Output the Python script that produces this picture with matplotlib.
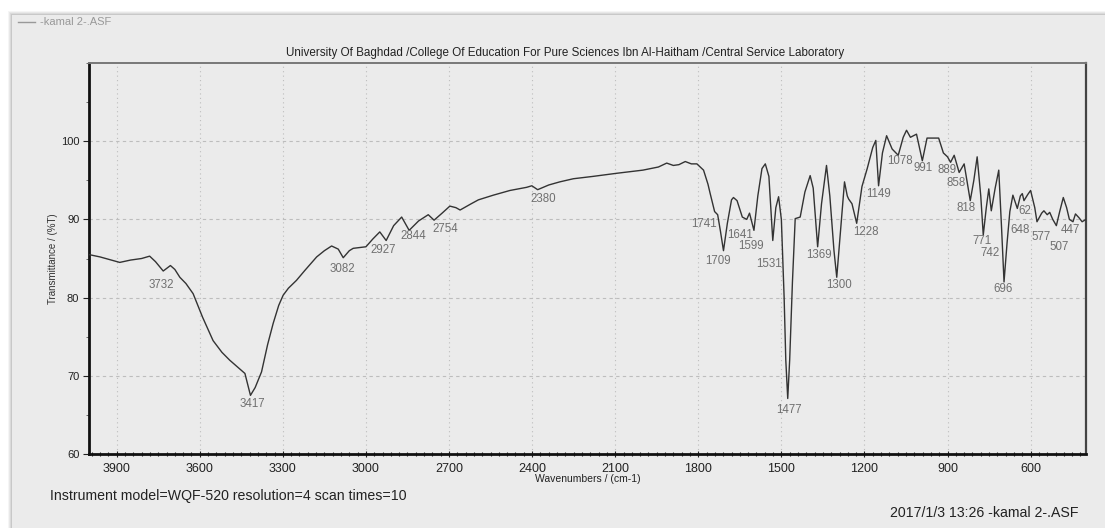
import matplotlib
matplotlib.use("Agg")
import matplotlib.pyplot as plt
from matplotlib.patches import Rectangle
from matplotlib.ticker import MultipleLocator

plt.rcParams['font.family'] = ['Liberation Sans', 'DejaVu Sans']

# ---- data ----
wavenumber = [4000, 3960, 3920, 3889, 3850, 3810, 3781, 3760, 3732, 3706, 3690, 3672, 3650,
              3624, 3590, 3552, 3520, 3492, 3460, 3437, 3417, 3400, 3377, 3355, 3335, 3315,
              3299, 3280, 3251, 3220, 3178, 3150, 3124, 3100, 3082, 3060, 3046, 3000, 2975,
              2950, 2927, 2900, 2871, 2844, 2810, 2775, 2754, 2725, 2697, 2675, 2660, 2620,
              2594, 2540, 2480, 2420, 2401, 2380, 2340, 2300, 2251, 2180, 2094, 2000, 1944,
              1914, 1890, 1870, 1847, 1825, 1805, 1781, 1765, 1757, 1741, 1730, 1720, 1709,
              1695, 1680, 1673, 1660, 1641, 1625, 1615, 1599, 1585, 1570, 1558, 1545, 1531,
              1520, 1510, 1500, 1490, 1484, 1477, 1470, 1460, 1450, 1432, 1415, 1396, 1385,
              1369, 1355, 1337, 1325, 1310, 1300, 1290, 1272, 1262, 1257, 1245, 1228, 1209,
              1190, 1170, 1159, 1149, 1135, 1120, 1100, 1078, 1060, 1048, 1034, 1012, 991,
              974, 932, 915, 900, 889, 876, 858, 840, 818, 805, 793, 780, 771, 760, 751, 742,
              728, 715, 705, 696, 685, 675, 664, 648, 637, 630, 624, 610, 600, 585, 577, 560,
              552, 540, 531, 520, 507, 495, 482, 470, 460, 447, 438, 425, 414, 400]
transmittance = [85.5, 85.2, 84.8, 84.5, 84.8, 85.0, 85.3, 84.6, 83.4, 84.1, 83.6, 82.6, 81.8,
                 80.5, 77.5, 74.5, 73.0, 72.0, 71.0, 70.3, 67.5, 68.5, 70.5, 74.0, 76.7, 79.0,
                 80.3, 81.2, 82.2, 83.5, 85.2, 86.0, 86.6, 86.2, 85.1, 86.0, 86.3, 86.5, 87.5,
                 88.4, 87.3, 89.2, 90.3, 88.6, 89.8, 90.6, 89.9, 90.8, 91.7, 91.5, 91.2, 92.0,
                 92.5, 93.1, 93.7, 94.1, 94.3, 93.8, 94.4, 94.8, 95.2, 95.5, 95.9, 96.3, 96.7,
                 97.2, 96.9, 97.0, 97.4, 97.1, 97.1, 96.3, 94.5, 93.3, 91.0, 90.6, 88.5, 86.0,
                 89.5, 92.5, 92.8, 92.4, 90.3, 90.0, 90.8, 88.6, 93.0, 96.5, 97.1, 95.5, 87.3,
                 91.5, 92.9, 90.0, 80.0, 72.0, 67.1, 72.0, 82.0, 90.1, 90.3, 93.5, 95.6, 94.0,
                 86.5, 92.0, 96.9, 93.0, 86.0, 82.6, 87.0, 94.8, 93.0, 92.6, 92.0, 89.5, 94.2,
                 96.5, 99.2, 100.1, 94.3, 98.5, 100.7, 99.0, 98.2, 100.5, 101.4, 100.5, 100.9, 97.5,
                 100.4, 100.4, 98.5, 98.0, 97.3, 98.2, 96.0, 97.1, 92.4, 95.0, 98.0, 93.0, 88.0, 91.5, 93.9, 91.1,
                 94.0, 96.3, 89.0, 82.0, 87.0, 91.0, 93.1, 91.4, 93.0, 93.3, 92.4, 93.2, 93.7, 91.5, 89.7, 90.8,
                 91.1, 90.6, 90.9, 90.0, 89.2, 91.0, 92.8, 91.5, 90.0, 89.7, 90.7, 90.2, 89.7, 90.0]

peak_wavenumbers = [3732, 3417, 3082, 2927, 2844, 2754, 2380, 1741, 1709, 1641, 1599, 1531,
                    1477, 1369, 1300, 1228, 1149, 1078, 991, 889, 858, 818, 771, 742, 696,
                    648, 624, 577, 507, 447]
peak_texts = ["3732", "3417", "3082", "2927", "2844", "2754", "2380", "1741", "1709", "1641",
              "1599", "1531", "1477", "1369", "1300", "1228", "1149", "1078", "991", "889",
              "858", "818", "771", "742", "696", "648", "62", "577", "507", "447"]

x_ticks = [3900, 3600, 3300, 3000, 2700, 2400, 2100, 1800, 1500, 1200, 900, 600]
y_ticks = [60, 70, 80, 90, 100]

# label offsets in pixels (dx, dy) relative to peak point
label_offsets = [(-2, -14), (2, -9), (-1, -11), (-3, -9), (4, -6), (11, -9), (6, -9),
                 (-11, -12), (-5, -10), (-2, -18), (-3, -16), (-4, -23), (1, -12), (1, -8),
                 (2, -8), (9, -9), (0, -8), (2, -6), (1, -7), (-4, -8), (-3, -11), (-4, -7),
                 (-1, -6), (-1, -42), (-1, -7), (3, -22), (1, -10), (4, -15), (3, -21), (-3, -8)]

W, H = 1105, 531
fig = plt.figure(figsize=(W / 100, H / 100), dpi=100)
fig.patch.set_facecolor('white')

# panel shadow and panel
for i, a in enumerate([0.04, 0.05, 0.06, 0.08]):
    off = (4 - i)
    fig.patches.append(Rectangle(((12 - off) / W, 3 / H), (1093 + 2 * off) / W,
                                 (513 + off) / H, transform=fig.transFigure,
                                 facecolor='black', alpha=a, edgecolor='none', zorder=-2))
fig.patches.append(Rectangle((12 / W, 3 / H), 1093 / W, 513 / H, transform=fig.transFigure,
                             facecolor='#ebebeb', edgecolor='none', zorder=-1))

ax = fig.add_axes([89 / W, 1 - 454 / H, (1086 - 89) / W, (454 - 63) / H])
ax.set_zorder(2)
ax.set_facecolor('#ebebeb')
ax.plot(wavenumber, transmittance, color='#333333', lw=1.0, zorder=3)

ax.set_xlim(4000, 400)
ax.set_ylim(60, 110)
ax.set_xticks(x_ticks)
ax.set_yticks(y_ticks)
ax.xaxis.set_minor_locator(MultipleLocator(30))
ax.yaxis.set_minor_locator(MultipleLocator(5))
ax.tick_params(axis='x', which='major', direction='inout', length=5, width=0.8,
               labelsize=9, colors='#222', pad=4)
ax.tick_params(axis='x', which='minor', direction='inout', length=3, width=0.8, colors='#222')
ax.tick_params(axis='y', which='major', direction='out', length=4, width=0.8,
               labelsize=8, colors='#222', pad=3)
ax.tick_params(axis='y', which='minor', direction='out', length=2, width=0.6, colors='#555')

ax.grid(True, axis='x', color='#bdbdbd', linestyle=(0, (1, 3)), lw=0.8)
ax.grid(True, axis='y', color='#bdbdbd', linestyle=(0, (3, 3)), lw=0.8)

for s in ['left', 'bottom']:
    ax.spines[s].set_linewidth(2.0)
    ax.spines[s].set_color('#111')
ax.spines['right'].set_linewidth(1.6)
ax.spines['right'].set_color('#444')
ax.spines['top'].set_linewidth(1.4)
ax.spines['top'].set_color('#777')

ax.set_xlabel('Wavenumbers / (cm-1)', fontsize=7.5, color='#222', labelpad=-1)
ax.set_ylabel('Transmittance / (%T)', fontsize=7, color='#333', labelpad=2)

for wn, txt, (dx, dy) in zip(peak_wavenumbers, peak_texts, label_offsets):
    t = transmittance[wavenumber.index(wn)]
    ax.annotate(txt, xy=(wn, t), xytext=(dx, dy), textcoords='offset pixels',
                ha='center', va='center', fontsize=8.3, color='#707070', zorder=4)

fig.text(565 / W, 1 - 53 / H,
         'University Of Baghdad /College Of Education For Pure Sciences Ibn Al-Haitham /Central Service Laboratory',
         ha='center', va='center', fontsize=8.4, color='#222')

# legend line + text
fig.add_artist(plt.Line2D([18 / W, 35 / W], [1 - 22 / H, 1 - 22 / H], color='#999', lw=1.0,
                          transform=fig.transFigure))
fig.text(40 / W, 1 - 22 / H, '-kamal 2-.ASF', ha='left', va='center', fontsize=8, color='#999')

fig.text(50 / W, 1 - 496 / H, 'Instrument model=WQF-520 resolution=4 scan times=10',
         ha='left', va='center', fontsize=10.2, color='#222')
fig.text(1078 / W, 1 - 513 / H, '2017/1/3 13:26 -kamal 2-.ASF',
         ha='right', va='center', fontsize=10.2, color='#222')

fig.savefig('out.png', dpi=100, facecolor=fig.get_facecolor())
